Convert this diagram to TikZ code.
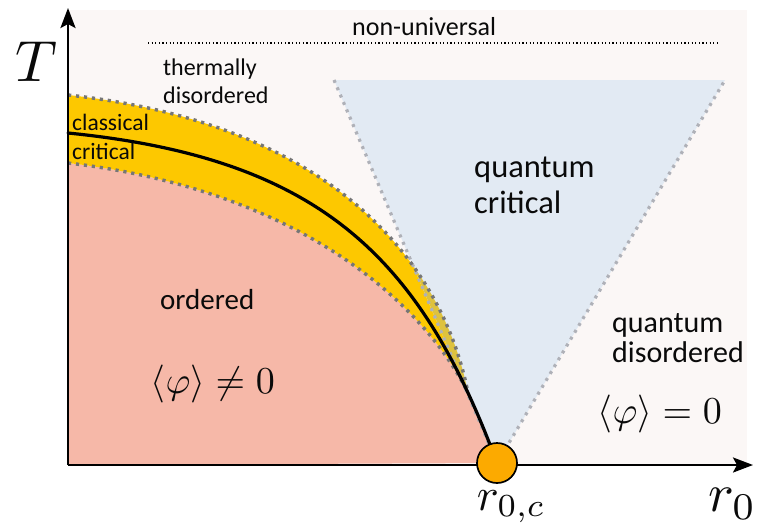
\documentclass[tikz,border=0pt]{standalone}
\usepackage{fontspec}
\newfontfamily\lab{Carlito}
\usetikzlibrary{arrows.meta}
\definecolor{bgc}{RGB}{251,247,246}
\definecolor{ordc}{RGB}{246,184,168}
\definecolor{yelc}{RGB}{253,200,0}
\definecolor{qcc}{RGB}{226,234,243}
\definecolor{mixc}{RGB}{222,194,62}
\definecolor{dotc}{RGB}{118,118,118}
\definecolor{tdotc}{RGB}{175,177,184}
\definecolor{ptc}{RGB}{252,170,0}
\definecolor{txtc}{RGB}{10,10,10}
\tikzset{
  banddots/.style={dotc, line width=3.4pt, dash pattern=on 3.2pt off 4.8pt},
  tridots/.style={tdotc, line width=3.2pt, dash pattern=on 3pt off 5pt},
  lbl/.style={anchor=base west, inner sep=0pt, text=txtc},
  axis/.style={line width=2.6pt, -{Stealth[length=20pt,width=15pt,inset=4pt]}}
}
\begin{document}
\begin{tikzpicture}[x=1pt,y=-1pt]
\useasboundingbox (0,0) rectangle (759,525);
% background
\fill[bgc] (68,10) rectangle (747,465);
\coordinate (O) at (68,465);
\coordinate (C) at (497,463);
\coordinate (E) at (468,393);
\coordinate (TL) at (334,80);
\coordinate (TR) at (725,80);
\coordinate (U0) at (68,95);
\coordinate (L0) at (68,163);
\coordinate (B0) at (68,133);
% ordered region
\fill[ordc] (O) -- (L0) .. controls (300,190) and (425,305) .. (E) -- (C) -- cycle;
% yellow band
\fill[yelc] (U0) .. controls (318,122) and (440,250) .. (E) .. controls (425,305) and (300,190) .. (L0) -- cycle;
% quantum critical triangle
\fill[qcc] (TL) -- (TR) -- (C) -- cycle;
\begin{scope}
\clip (TL) -- (TR) -- (C) -- cycle;
\fill[mixc] (U0) .. controls (318,122) and (440,250) .. (E) .. controls (425,305) and (300,190) .. (L0) -- cycle;
\end{scope}
\draw[tridots] (TL) -- (C) -- (TR);
% band boundaries
\draw[banddots] (U0) .. controls (318,122) and (440,250) .. (E);
\draw[banddots] (L0) .. controls (300,190) and (425,305) .. (E);
% critical line
\draw[line width=3.2pt, line cap=round] (B0) .. controls (318,158) and (420,255) .. (C);
% non-universal line
\coordinate (NUa) at (148,43);
\coordinate (NUb) at (720,43);
\draw[line width=1.2pt, dash pattern=on 1.2pt off 2.4pt] (NUa) -- (NUb);
% axes
\coordinate (Ty) at (68,8);
\coordinate (Rx) at (753,465);
\draw[axis] (O) -- (Ty);
\draw[axis] (O) -- (Rx);
% critical point
\node[circle, draw=black, line width=1.7pt, fill=ptc, minimum size=40pt, inner sep=0pt] (cp) at (C) {};
% labels
\node[lbl, font=\lab\fontsize{26}{30}\selectfont] (nu) at (352,35) {non-universal};
\node[lbl, font=\lab\fontsize{24}{28}\selectfont] (td1) at (163,75) {thermally};
\node[lbl, font=\lab\fontsize{24}{28}\selectfont] (td2) at (163,103) {disordered};
\node[lbl, font=\lab\fontsize{23.5}{28}\selectfont] (cc1) at (72,130) {classical};
\node[lbl, font=\lab\fontsize{23.5}{28}\selectfont] (cc2) at (72,159) {critical};
\node[lbl, font=\lab\fontsize{32.5}{36}\selectfont] (qc1) at (474,177) {quantum};
\node[lbl, font=\lab\fontsize{32.5}{36}\selectfont] (qc2) at (474,213) {critical};
\node[lbl, font=\lab\fontsize{29}{30}\selectfont] (ord) at (160,309) {ordered};
\node[lbl, font=\lab\fontsize{30}{30}\selectfont] (qd1) at (612,332) {quantum};
\node[lbl, font=\lab\fontsize{30}{30}\selectfont] (qd2) at (612,362) {disordered};
\node[lbl, scale=3.8] (m1) at (150,393) {$\langle\varphi\rangle \neq 0$};
\node[lbl, scale=3.8] (m2) at (597,423) {$\langle\varphi\rangle = 0$};
\node[lbl, scale=5.8] (Tl) at (14,81) {$T$};
\node[lbl, scale=5.4] (r0) at (707,511) {$r_0$};
\node[lbl, scale=4.6] (r0c) at (476,510) {$r_{0,c}$};
\end{tikzpicture}
\end{document}
